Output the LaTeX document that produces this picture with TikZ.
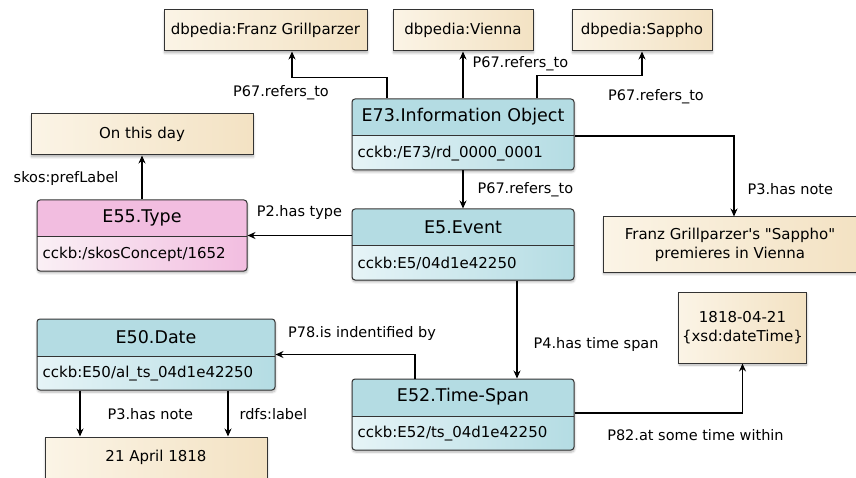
\documentclass[tikz,border=0pt]{standalone}
\usepackage{fontspec}
\setmainfont{DejaVu Sans}
\usetikzlibrary{arrows.meta,shadows.blur,positioning}

\definecolor{clshead}{HTML}{B4DCE3}
\definecolor{clsbody}{HTML}{E6F4F7}
\definecolor{typehead}{HTML}{F2BDE0}
\definecolor{typebody}{HTML}{FAF0F5}
\definecolor{litlight}{HTML}{FBF4E6}
\definecolor{litdark}{HTML}{F3E2C3}
\definecolor{outline}{HTML}{333333}

\begin{document}
\begin{tikzpicture}[x=1pt, y=1pt, >={Stealth[length=8pt,width=7pt]},
    cls/.style 2 args={draw=outline, line width=1pt, rounded corners=3pt, minimum height=71pt, inner sep=0pt,
      blur shadow={shadow xshift=0.5pt, shadow yshift=-2pt, shadow opacity=30, shadow blur steps=6},
      path picture={
        \fill[#1, sharp corners] (path picture bounding box.north west) rectangle ([yshift=-37pt]path picture bounding box.north east);
        \shade[sharp corners, left color=#2, right color=#1] ([yshift=-37pt]path picture bounding box.north west) rectangle (path picture bounding box.south east);
        \draw[outline, line width=1pt, sharp corners] ([yshift=-37pt]path picture bounding box.north west) -- ([yshift=-37pt]path picture bounding box.north east);}},
    head/.style={font=\fontsize{17.5}{20}\selectfont, inner sep=0pt},
    iri/.style={font=\fontsize{15}{18}\selectfont, inner sep=0pt, anchor=west},
    lit/.style={draw=outline, line width=1pt, left color=litlight, right color=litdark, minimum height=41pt, align=center,
      font=\fontsize{15}{19}\selectfont,
      blur shadow={shadow xshift=0.5pt, shadow yshift=-2pt, shadow opacity=30, shadow blur steps=6}},
    lbl/.style={font=\fontsize{14.5}{17}\selectfont, inner sep=2pt},
    link/.style={->, line width=1.1pt}]

    \useasboundingbox (0,0) rectangle (856,477);
    \clip (0,0) rectangle (856,477);

    % literals
    \node[lit, minimum width=203pt] (grill) at (265.5,446.5) {dbpedia:Franz Grillparzer};
    \node[lit, minimum width=140pt] (vienna) at (463,446.5) {dbpedia:Vienna};
    \node[lit, minimum width=140pt] (sappho) at (642,446.5) {dbpedia:Sappho};
    \node[lit, minimum width=222pt] (onday) at (142,342.5) {On this day};
    \node[lit, minimum width=254pt, minimum height=55pt] (note) at (730,232.5) {Franz Grillparzer\textquotesingle s \textquotedbl Sappho\textquotedbl\\premieres in Vienna};
    \node[lit, minimum width=123pt, minimum height=71pt] (dtime) at (742.5,149.5) {1818-04-21\\\{xsd:dateTime\}};
    \node[lit, minimum width=222pt] (april) at (156,19.5) {21 April 1818};

    % classes
    \node[cls={clshead}{clsbody}, minimum width=222pt] (e73) at (463,342.5) {};
    \node[head] (e73h) at ([yshift=-18.5pt]e73.north) {E73.Information Object};
    \node[iri] (e73i) at ([xshift=6pt,yshift=17pt]e73.south west) {cckb:/E73/rd\_0000\_0001};

    \node[cls={clshead}{clsbody}, minimum width=222pt] (e5) at (463,232.5) {};
    \node[head] (e5h) at ([yshift=-18.5pt]e5.north) {E5.Event};
    \node[iri] (e5i) at ([xshift=6pt,yshift=17pt]e5.south west) {cckb:E5/04d1e42250};

    \node[cls={typehead}{typebody}, minimum width=210pt] (e55) at (142,241.5) {};
    \node[head] (e55h) at ([yshift=-18.5pt]e55.north) {E55.Type};
    \node[iri] (e55i) at ([xshift=6pt,yshift=17pt]e55.south west) {cckb:/skosConcept/1652};

    \node[cls={clshead}{clsbody}, minimum width=238pt] (e50) at (156,122.5) {};
    \node[head] (e50h) at ([yshift=-18.5pt]e50.north) {E50.Date};
    \node[iri] (e50i) at ([xshift=6pt,yshift=17pt]e50.south west) {cckb:E50/al\_ts\_04d1e42250};

    \node[cls={clshead}{clsbody}, minimum width=222pt] (e52) at (463,62.5) {};
    \node[head] (e52h) at ([yshift=-18.5pt]e52.north) {E52.Time-Span};
    \node[iri] (e52i) at ([xshift=6pt,yshift=17pt]e52.south west) {cckb:E52/ts\_04d1e42250};

    % properties
    \draw[link] ([xshift=-76pt]e73.north) -- ++(0,21) -| node[lbl, xshift=-11pt, yshift=-15pt] {P67.refers\_to} ([xshift=26.5pt]grill.south);
    \draw[link] (e73.north) -- node[lbl, right=7pt, pos=0.75] {P67.refers\_to} (vienna.south);
    \draw[link] ([xshift=74pt]e73.north) -- ++(0,23) -| node[lbl, xshift=14pt, yshift=-21pt] {P67.refers\_to} (sappho.south);
    \draw[link] ([yshift=-1.5pt]e73.east) -| node[lbl, right=11pt, pos=0.83] {P3.has note} ([xshift=4pt]note.north);
    \draw[link] (e73.south) -- node[lbl, right=12pt] {P67.refers\_to} (e5.north);
    \draw[link] (e5.west |- e55.east) -- node[lbl, above=13pt] {P2.has type} (e55.east);
    \draw[link] (e55.north) -- node[lbl, left=21pt, pos=0.47] {skos:prefLabel} (onday.south);
    \draw[link] ([xshift=54pt]e5.south) -- node[lbl, right=14pt, pos=0.65] {P4.has time span} ([xshift=54pt]e52.north);
    \draw[link] ([xshift=-48pt]e52.north) |- node[lbl, above=11pt, pos=0.69] {P78.is indentified by} (e50.east);
    \draw[link] ([yshift=1.5pt]e52.east) -| node[lbl, below=14pt, pos=0.36] {P82.at some time within} (dtime.south);
    \draw[link] ([xshift=-76pt]e50.south) -- node[lbl, right=25pt, pos=0.51] {P3.has note} ([xshift=-76pt]april.north);
    \draw[link] ([xshift=72pt]e50.south) -- node[lbl, right=9pt, pos=0.51] {rdfs:label} ([xshift=72pt]april.north);
\end{tikzpicture}
\end{document}
